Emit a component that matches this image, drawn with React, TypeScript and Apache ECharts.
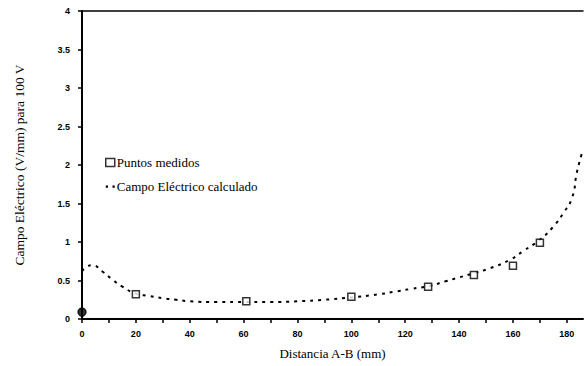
import React, { useEffect, useRef } from "react";
import * as echarts from "echarts";

const measuredX = [0, 20, 61, 100, 128.5, 145.5, 160, 170];
const measuredY = [0.09, 0.32, 0.23, 0.29, 0.42, 0.57, 0.69, 0.99];

const calcX = [0, 1.5, 3.7, 7.8, 11, 15, 20, 25, 30, 35, 40, 50, 60, 70, 80, 90, 100, 110, 117, 122, 129, 135, 140, 145, 151.5, 159, 163.7, 170, 175, 178.6, 182, 183.7, 186];
const calcY = [0.62, 0.67, 0.7, 0.61, 0.52, 0.42, 0.33, 0.3, 0.27, 0.25, 0.23, 0.22, 0.22, 0.22, 0.23, 0.25, 0.28, 0.32, 0.36, 0.39, 0.43, 0.49, 0.54, 0.59, 0.66, 0.77, 0.88, 1.03, 1.2, 1.37, 1.58, 1.9, 2.2];

const xTickLabels = ["0", "20", "40", "60", "80", "100", "120", "140", "160", "180"];
const yTickLabels = ["0", "0.5", "1", "1.5", "2", "2.5", "3", "3.5", "4"];

const serif = "'Liberation Serif', 'DejaVu Serif', serif";
const sans = "'Liberation Sans', Arial, sans-serif";

export default function App() {
  const ref = useRef<HTMLDivElement>(null);
  useEffect(() => {
    if (!ref.current) return;
    const chart = echarts.init(ref.current, undefined, { renderer: "svg" });
    const measuredData = measuredX.map((x, i) =>
      i === 0
        ? { value: [x, measuredY[i]], symbol: "circle", symbolSize: 8, itemStyle: { color: "#000" } }
        : { value: [x, measuredY[i]] }
    );
    chart.setOption({
      animation: false,
      backgroundColor: "#fff",
      grid: { left: 82, top: 11, right: 2, bottom: 47 },
      legend: {
        orient: "vertical",
        left: 100,
        top: 151,
        itemGap: 11,
        itemWidth: 9,
        itemHeight: 8,
        textStyle: { fontFamily: serif, fontSize: 13, color: "#000", padding: [0, 0, 0, -3] },
        data: [
          { name: "Puntos medidos", icon: "rect", itemStyle: { color: "#fff", borderColor: "#000", borderWidth: 1.5 } },
          {
            name: "Campo Eléctrico calculado",
            icon: "path://M0,3h2v2h-2z M6,3h2v2h-2z",
            itemStyle: { color: "#000", borderWidth: 0 },
          },
        ],
      },
      xAxis: [
        {
          type: "value",
          min: 0,
          max: 186,
          interval: 10,
          name: "Distancia A-B (mm)",
          nameLocation: "middle",
          nameGap: 28,
          nameTextStyle: { fontFamily: serif, fontSize: 13, color: "#000" },
          axisLine: { show: true, onZero: false, lineStyle: { color: "#000", width: 2 } },
          axisTick: { show: true, length: 4, lineStyle: { color: "#000", width: 1.5 } },
          axisLabel: {
            margin: 10,
            fontFamily: sans,
            fontWeight: "bold",
            fontSize: 9,
            color: "#000",
            showMaxLabel: false,
            formatter: (v: number) => {
              const s = String(v);
              return v % 20 === 0 && xTickLabels.includes(s) ? s : "";
            },
          },
          splitLine: { show: false },
        },
        {
          type: "value",
          position: "top",
          min: 0,
          max: 186,
          axisLine: { show: true, onZero: false, lineStyle: { color: "#000", width: 1.5 } },
          axisTick: { show: false },
          axisLabel: { show: false },
          splitLine: { show: false },
        },
      ],
      yAxis: {
        type: "value",
        min: 0,
        max: 4,
        interval: 0.5,
        name: "Campo Eléctrico (V/mm) para 100 V",
        nameLocation: "middle",
        nameGap: 56,
        nameTextStyle: { fontFamily: serif, fontSize: 13.5, color: "#000" },
        axisLine: { show: true, onZero: false, lineStyle: { color: "#000", width: 2 } },
        axisTick: { show: true, length: 4, lineStyle: { color: "#000", width: 1.5 } },
        axisLabel: {
          margin: 12,
          fontFamily: sans,
          fontWeight: "bold",
          fontSize: 9,
          color: "#000",
          formatter: (v: number) => {
            const s = String(v);
            return yTickLabels.includes(s) ? s : "";
          },
        },
        splitLine: { show: false },
      },
      series: [
        {
          name: "Puntos medidos",
          type: "scatter",
          symbol: "rect",
          symbolSize: 7,
          itemStyle: { color: "#fff", borderColor: "#000", borderWidth: 1.5 },
          data: measuredData,
          z: 3,
        },
        {
          name: "Campo Eléctrico calculado",
          type: "line",
          smooth: true,
          showSymbol: false,
          symbol: "none",
          itemStyle: { color: "#000" },
          lineStyle: { color: "#000", width: 2, type: [3, 5] },
          data: calcX.map((x, i) => [x, calcY[i]]),
          z: 2,
        },
      ],
    });
    return () => chart.dispose();
  }, []);
  return <div ref={ref} style={{ width: 585, height: 366, position: "absolute", left: 0, top: 0 }} />;
}
